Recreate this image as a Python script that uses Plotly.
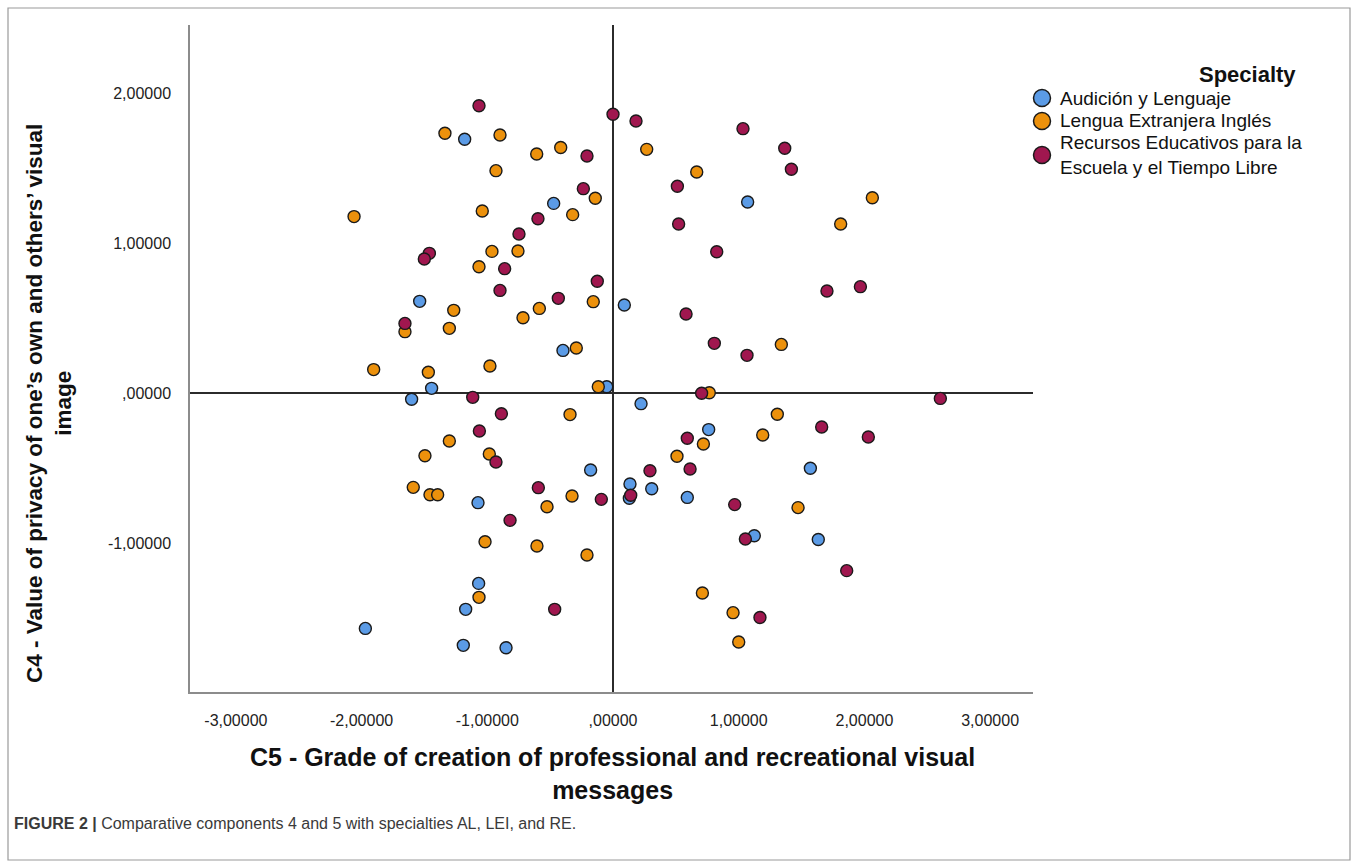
import plotly.graph_objects as go

# Component scores (C5 on x, C4 on y) for each specialty
al_x = [-1.18, -0.472, 1.071, 0.09, -1.538, -0.398, -1.443, -0.05, -1.602, 0.223,
        -0.178, -1.074, 0.761, 1.57, 0.135, 0.308, 0.13, 0.591, 1.124, 1.633,
        -1.069, -1.172, -1.97, -1.191, -0.851]
al_y = [1.691, 1.264, 1.273, 0.587, 0.611, 0.284, 0.031, 0.042, -0.042, -0.071,
        -0.513, -0.731, -0.244, -0.502, -0.607, -0.638, -0.702, -0.696, -0.951, -0.976,
        -1.269, -1.442, -1.569, -1.682, -1.698]

lei_x = [-1.337, -0.899, -0.607, -0.416, -0.931, -0.141, -1.04, -0.321, 0.268, 0.666,
         2.063, 1.811, 1.339, 0.766, -0.117, -2.06, -0.963, -0.756, -1.066, -0.157,
         -1.267, -0.586, -0.716, -1.655, -1.302, -0.292, -1.904, -1.469, -0.979, -0.342,
         -1.302, -1.496, -0.984, -1.589, -1.456, -1.395, -0.326, -0.525, -1.018, -0.605,
         -0.207, -1.066, 1.307, 0.719, 1.191, 0.509, 1.472, 0.711, 0.955, 1.0]
lei_y = [1.731, 1.72, 1.593, 1.636, 1.482, 1.298, 1.213, 1.189, 1.624, 1.473,
         1.302, 1.127, 0.324, 0.002, 0.042, 1.176, 0.944, 0.947, 0.842, 0.609,
         0.551, 0.564, 0.502, 0.409, 0.431, 0.3, 0.156, 0.138, 0.18, -0.144,
         -0.32, -0.418, -0.407, -0.629, -0.678, -0.678, -0.687, -0.758, -0.991, -1.02,
         -1.08, -1.362, -0.142, -0.34, -0.28, -0.422, -0.764, -1.333, -1.464, -1.66]

re_x = [-1.066, 0.0, -0.207, -0.236, 0.183, 1.034, 1.366, 1.419, 0.512, 0.522,
        0.825, 1.702, 1.968, 0.581, 0.806, 1.066, 0.705, 2.604, -0.125, -0.597,
        -0.748, -1.461, -1.501, -0.862, -0.899, -0.435, -1.655, -1.116, -0.888, -1.063,
        -0.931, -0.594, -0.093, -0.819, -0.464, 1.66, 2.031, 0.591, 0.294, 0.613,
        0.141, 0.968, 1.053, 1.859, 1.169]
re_y = [1.915, 1.858, 1.58, 1.362, 1.813, 1.762, 1.631, 1.491, 1.378, 1.127,
        0.942, 0.68, 0.709, 0.527, 0.331, 0.251, -0.002, -0.036, 0.745, 1.162,
        1.06, 0.931, 0.893, 0.829, 0.684, 0.631, 0.464, -0.029, -0.138, -0.253,
        -0.46, -0.631, -0.709, -0.849, -1.442, -0.227, -0.293, -0.302, -0.518, -0.507,
        -0.682, -0.744, -0.973, -1.184, -1.496]

specialties = ["Audición y Lenguaje", "Lengua Extranjera Inglés",
               "Recursos Educativos para la<br>Escuela y el Tiempo Libre"]
colors = ["#5b9be6", "#ec910c", "#a0174f"]

x_ticks = [-3, -2, -1, 0, 1, 2, 3]
x_ticktext = ["-3,00000", "-2,00000", "-1,00000", ",00000", "1,00000", "2,00000", "3,00000"]
y_ticks = [-2, -1, 0, 1, 2]
y_ticktext = ["-2,00000", "-1,00000", ",00000", "1,00000", "2,00000"]

W, H = 1358, 868
L, R, T, B = 190, 1033, 25, 692  # plot area in pixels


def px(xp):
    return (xp - L) / (R - L)


def py(yp):
    return (B - yp) / (B - T)


fig = go.Figure()
series = [(al_x, al_y), (lei_x, lei_y), (re_x, re_y)]
for (xs, ys), name, col in zip(series, specialties, colors):
    fig.add_trace(go.Scatter(
        x=xs, y=ys, mode="markers", name=name.replace("<br>", " "),
        marker=dict(size=12, color=col, line=dict(color="#1a1a1a", width=1.4)),
        showlegend=False, hoverinfo="x+y+name",
    ))

sans = "Liberation Sans, Arial, sans-serif"
narrow = "Liberation Sans Narrow, Arial Narrow, Liberation Sans, Arial, sans-serif"

fig.update_layout(
    width=W, height=H,
    margin=dict(l=L, r=W - R, t=T, b=H - B),
    paper_bgcolor="white", plot_bgcolor="white",
    font=dict(family=sans, color="#222"),
    xaxis=dict(
        range=[-3.365, 3.341], tickvals=x_ticks, ticktext=x_ticktext,
        showgrid=False, zeroline=True, zerolinecolor="#2b2b2b", zerolinewidth=2,
        showline=True, linecolor="#8c8c8c", linewidth=1.5, mirror=False,
        ticks="outside", ticklen=13, tickcolor="rgba(0,0,0,0)",
        tickfont=dict(size=16, color="#222"),
    ),
    yaxis=dict(
        range=[-1.993, 2.453], tickvals=y_ticks, ticktext=y_ticktext,
        showgrid=False, zeroline=True, zerolinecolor="#2b2b2b", zerolinewidth=2,
        showline=True, linecolor="#8c8c8c", linewidth=1.5, mirror=False,
        ticks="outside", ticklen=14, tickcolor="rgba(0,0,0,0)",
        tickfont=dict(size=16, color="#222"),
    ),
)

# axis titles
fig.add_annotation(
    x=px(612), y=py(773), xref="paper", yref="paper", showarrow=False,
    xanchor="center", yanchor="middle",
    text="C5 - Grade of creation of professional and recreational visual<br>messages",
    font=dict(family=narrow, size=25, color="#111", weight="bold"),
)
fig.add_annotation(
    x=px(49), y=py(404), xref="paper", yref="paper", showarrow=False,
    xanchor="center", yanchor="middle", textangle=-90,
    text="C4 - Value of privacy of one’s own and others’ visual<br>image",
    font=dict(family=narrow, size=22.5, color="#111", weight="bold"),
)

# legend block
fig.add_annotation(
    x=px(1247), y=py(75), xref="paper", yref="paper", showarrow=False,
    xanchor="center", yanchor="middle", text="<b>Specialty</b>",
    font=dict(family=sans, size=22, color="#111"),
)
item_centres = [98, 121, 155]
for name, col, yc in zip(specialties, colors, item_centres):
    fig.add_shape(
        type="circle", xref="paper", yref="paper",
        xsizemode="pixel", ysizemode="pixel",
        xanchor=px(1042), yanchor=py(yc), x0=-8.5, x1=8.5, y0=-8.5, y1=8.5,
        fillcolor=col, line=dict(color="#1a1a1a", width=1.5),
    )
    fig.add_annotation(
        x=px(1058), y=py(yc), xref="paper", yref="paper", showarrow=False,
        xanchor="left", yanchor="middle", align="left", text=name,
        font=dict(family=sans, size=19, color="#111"),
    )

# caption
fig.add_annotation(
    x=px(12), y=py(823), xref="paper", yref="paper", showarrow=False,
    xanchor="left", yanchor="middle",
    text="<b>FIGURE 2 |</b> Comparative components 4 and 5 with specialties AL, LEI, and RE.",
    font=dict(family=sans, size=16, color="#3a3a3a"),
)

# outer frame
fig.add_shape(
    type="rect", xref="paper", yref="paper",
    x0=px(8), x1=px(1350), y0=py(860), y1=py(8),
    line=dict(color="#9a9a9a", width=1.2), fillcolor="rgba(0,0,0,0)", layer="below",
)

fig.write_html("out.html")
